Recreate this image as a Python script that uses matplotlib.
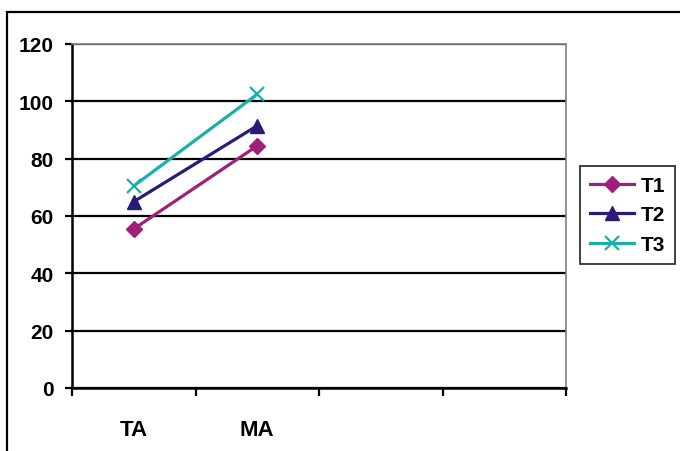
import matplotlib.pyplot as plt
from matplotlib.patches import Rectangle

categories = ["TA", "MA", "", ""]
t1 = [55.5, 84.5]
t2 = [65, 91.5]
t3 = [70.5, 102.5]

plt.rcParams['font.family'] = ['Liberation Sans', 'DejaVu Sans']
plt.rcParams['font.weight'] = 'bold'

fig = plt.figure(figsize=(6.8, 4.52), dpi=100)
fig.patches.append(Rectangle((7 / 680, -0.2), 1.2, 0.2 + (452 - 13) / 452,
                             transform=fig.transFigure, fill=False,
                             edgecolor='black', linewidth=1.6))

ax = fig.add_axes([72 / 680, 63 / 452, 494 / 680, 344 / 452])

xs = [0.5, 1.5]
ax.plot(xs, t1, color='#A01F7C', lw=2.3, marker='D', ms=8, label='T1')
ax.plot(xs, t2, color='#2B1A78', lw=2.3, marker='^', ms=10, label='T2')
ax.plot(xs, t3, color='#1AB0A8', lw=2.3, marker='x', ms=10, mew=1.6, label='T3')

ax.set_xlim(0, 4)
ax.set_ylim(0, 120)
ax.set_yticks(range(0, 121, 20))
ax.yaxis.grid(True, color='black', lw=1.6)
ax.set_axisbelow(True)

ax.set_xticks([0, 1, 2, 3, 4])
ax.set_xticklabels([])
ax.set_xticks([0.5, 1.5, 2.5, 3.5], minor=True)
ax.set_xticklabels(categories, minor=True)
ax.tick_params(axis='x', which='minor', length=0, pad=22, labelsize=16)
ax.tick_params(axis='x', which='major', length=6, width=1.6, direction='out')
ax.tick_params(axis='y', length=5, width=1.6, direction='out', pad=8, labelsize=15)

ax.spines['left'].set_linewidth(1.8)
ax.spines['bottom'].set_linewidth(1.8)
ax.spines['top'].set_color('#808080')
ax.spines['right'].set_color('#808080')
ax.spines['top'].set_linewidth(1.2)
ax.spines['right'].set_linewidth(1.2)

leg = ax.legend(loc='center left', bbox_to_anchor=(580 / 680, (452 - 216) / 452),
                bbox_transform=fig.transFigure, fontsize=15, frameon=True,
                fancybox=False, edgecolor='black', handlelength=2.1,
                borderpad=0.5, labelspacing=0.5, handletextpad=0.3, borderaxespad=0)
leg.get_frame().set_linewidth(1.3)

fig.savefig('out.png', dpi=100)
